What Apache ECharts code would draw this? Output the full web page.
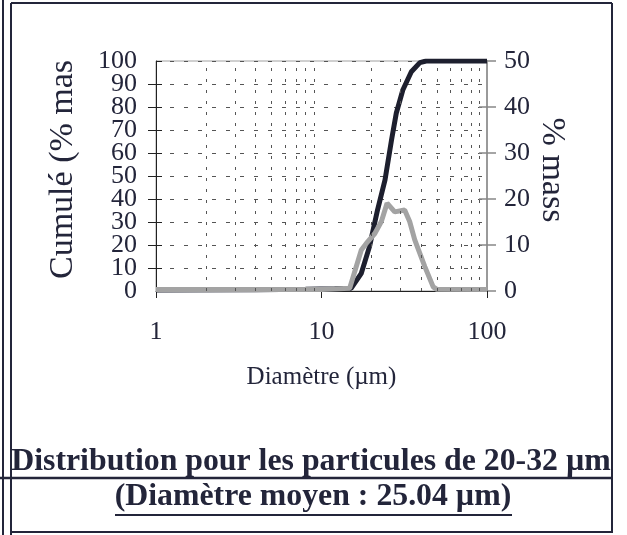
<!DOCTYPE html>
<html lang="fr">
<head>
<meta charset="UTF-8">
<title>Distribution 20-32 µm</title>
<script src="https://cdn.jsdelivr.net/npm/echarts@6/dist/echarts.min.js"></script>
<style>html,body{margin:0;padding:0;background:#fff}</style>
</head>
<body>
<div id="main" style="width:627px;height:535px"></div>
<script>
// cumulative curve (left axis, %)
var cumX = [1, 4, 8, 12, 15.1, 17.4, 19.5, 21.8, 24.2, 26.5, 28.3, 31.0, 34.9, 39.3, 42.9, 100];
var cumY = [0.4, 0.5, 0.8, 1.0, 1.2, 7.7, 19.3, 35.2, 48.3, 65.7, 77.3, 87.4, 95.3, 99.3, 100, 100];
// differential curve (right axis, % mass)
var diffX = [1, 10, 14.8, 17.4, 18.7, 21.0, 23.0, 24.9, 27.7, 31.8, 34.1, 36.6, 42.1, 47.3, 49.5, 100];
var diffY = [0.3, 0.3, 0.6, 8.9, 10.4, 12.5, 15.1, 19.1, 17.2, 17.6, 15.1, 11.1, 5.3, 0.9, 0.4, 0.3];
// dotted vertical grid at log minor positions
var minorX = [2, 3, 4, 5, 6, 7, 8, 9, 20, 30, 40, 50, 60, 70, 80, 90];

var serif = 'Liberation Serif';
var ink = '#23253a';

function pairs(xs, ys) {
  return xs.map(function (x, i) { return [x, ys[i]]; });
}

var chart = echarts.init(document.getElementById('main'));
chart.setOption({
  backgroundColor: '#fff',
  animation: false,
  grid: {left: 156, top: 61, width: 331, height: 230, show: true, borderColor: '#a0a0a0', borderWidth: 1},
  xAxis: {
    type: 'log', logBase: 10, min: 1, max: 100,
    name: 'Diamètre (µm)', nameLocation: 'middle', nameGap: 74,
    nameTextStyle: {fontFamily: serif, fontSize: 25, color: ink},
    axisLine: {lineStyle: {color: '#222', width: 1}},
    axisTick: {length: 7, lineStyle: {color: '#222'}},
    axisLabel: {fontFamily: serif, fontSize: 26, color: ink, margin: 28, showMinLabel: true, showMaxLabel: true},
    splitLine: {show: false}
  },
  yAxis: [{
    // left axis: labels 10..90 (ends drawn by the twin axis below, labels are tightly packed)
    type: 'value', min: 0, max: 100, interval: 10,
    axisLine: {show: true, lineStyle: {color: '#222', width: 1}},
    axisTick: {show: true, length: 8, lineStyle: {color: '#222'}},
    axisLabel: {fontFamily: serif, fontSize: 26, color: ink, margin: 19, showMinLabel: false, showMaxLabel: false},
    splitLine: {show: true, lineStyle: {color: '#555', type: [4, 10], width: 1}}
  }, {
    type: 'value', min: 0, max: 50, interval: 10, position: 'right',
    axisLine: {show: true, lineStyle: {color: '#9a9a9a', width: 2}},
    axisTick: {show: true, length: 9, lineStyle: {color: '#888', width: 1.5}},
    axisLabel: {fontFamily: serif, fontSize: 26, color: ink, margin: 17, showMinLabel: true, showMaxLabel: true},
    splitLine: {show: false}
  }, {
    type: 'value', min: 0, max: 100, interval: 10, position: 'left',
    axisLine: {show: false},
    axisTick: {show: true, inside: true, length: 6, lineStyle: {color: '#222'}},
    axisLabel: {
      fontFamily: serif, fontSize: 26, color: ink, margin: 19, showMinLabel: true, showMaxLabel: true,
      formatter: function (v) { return (v === 0 || v === 100) ? String(v) : ''; }
    },
    splitLine: {show: false}
  }, {
    type: 'value', min: 0, max: 50, interval: 10, position: 'right',
    axisLine: {show: false},
    axisTick: {show: true, inside: true, length: 8, lineStyle: {color: '#888', width: 1.5}},
    axisLabel: {show: false}, splitLine: {show: false}
  }],
  series: [{
    name: 'grille', type: 'line', data: [], z: 1, silent: true,
    markLine: {
      silent: true, symbol: 'none', label: {show: false},
      lineStyle: {color: '#555', type: [3, 8], width: 1},
      data: minorX.map(function (v) { return {xAxis: v}; })
    }
  }, {
    name: 'Cumulé', type: 'line', yAxisIndex: 0, z: 3,
    data: pairs(cumX, cumY), showSymbol: false,
    lineStyle: {color: '#1d1f2e', width: 5}
  }, {
    name: '% mass', type: 'line', yAxisIndex: 1, z: 4,
    data: pairs(diffX, diffY), showSymbol: false,
    lineStyle: {color: '#a3a3a3', width: 5}
  }],
  graphic: [
    // frame of the scanned table cell
    {type: 'line', shape: {x1: 3, y1: 0, x2: 3, y2: 535}, style: {stroke: ink, lineWidth: 2}},
    {type: 'line', shape: {x1: 11, y1: 3, x2: 11, y2: 535}, style: {stroke: ink, lineWidth: 2}},
    {type: 'line', shape: {x1: 11, y1: 3, x2: 612, y2: 3}, style: {stroke: ink, lineWidth: 2}},
    {type: 'line', shape: {x1: 612, y1: 3, x2: 612, y2: 533}, style: {stroke: ink, lineWidth: 2}},
    {type: 'line', shape: {x1: 11, y1: 532, x2: 612, y2: 532}, style: {stroke: ink, lineWidth: 2}},
    {type: 'line', shape: {x1: 0, y1: 478, x2: 612, y2: 478}, style: {stroke: ink, lineWidth: 2.5}},
    {type: 'line', shape: {x1: 115, y1: 515, x2: 512, y2: 515}, style: {stroke: ink, lineWidth: 2}},
    // axis titles
    {type: 'text', x: 63, y: 279, rotation: Math.PI / 2,
      style: {text: 'Cumulé (% mas', fontFamily: serif, fontSize: 34, fill: ink, align: 'left', verticalAlign: 'middle'}},
    {type: 'text', x: 552, y: 170, rotation: -Math.PI / 2,
      style: {text: '% mass', fontFamily: serif, fontSize: 34, fill: ink, align: 'center', verticalAlign: 'middle'}},
    // captions
    {type: 'text', x: 311, y: 462,
      style: {text: 'Distribution pour les particules de 20-32 µm', fontFamily: serif, fontWeight: 'bold', fontSize: 31.8, fill: ink, align: 'center', verticalAlign: 'middle'}},
    {type: 'text', x: 313, y: 497,
      style: {text: '(Diamètre moyen : 25.04 µm)', fontFamily: serif, fontWeight: 'bold', fontSize: 31.8, fill: ink, align: 'center', verticalAlign: 'middle'}}
  ]
});
</script>
</body>
</html>
